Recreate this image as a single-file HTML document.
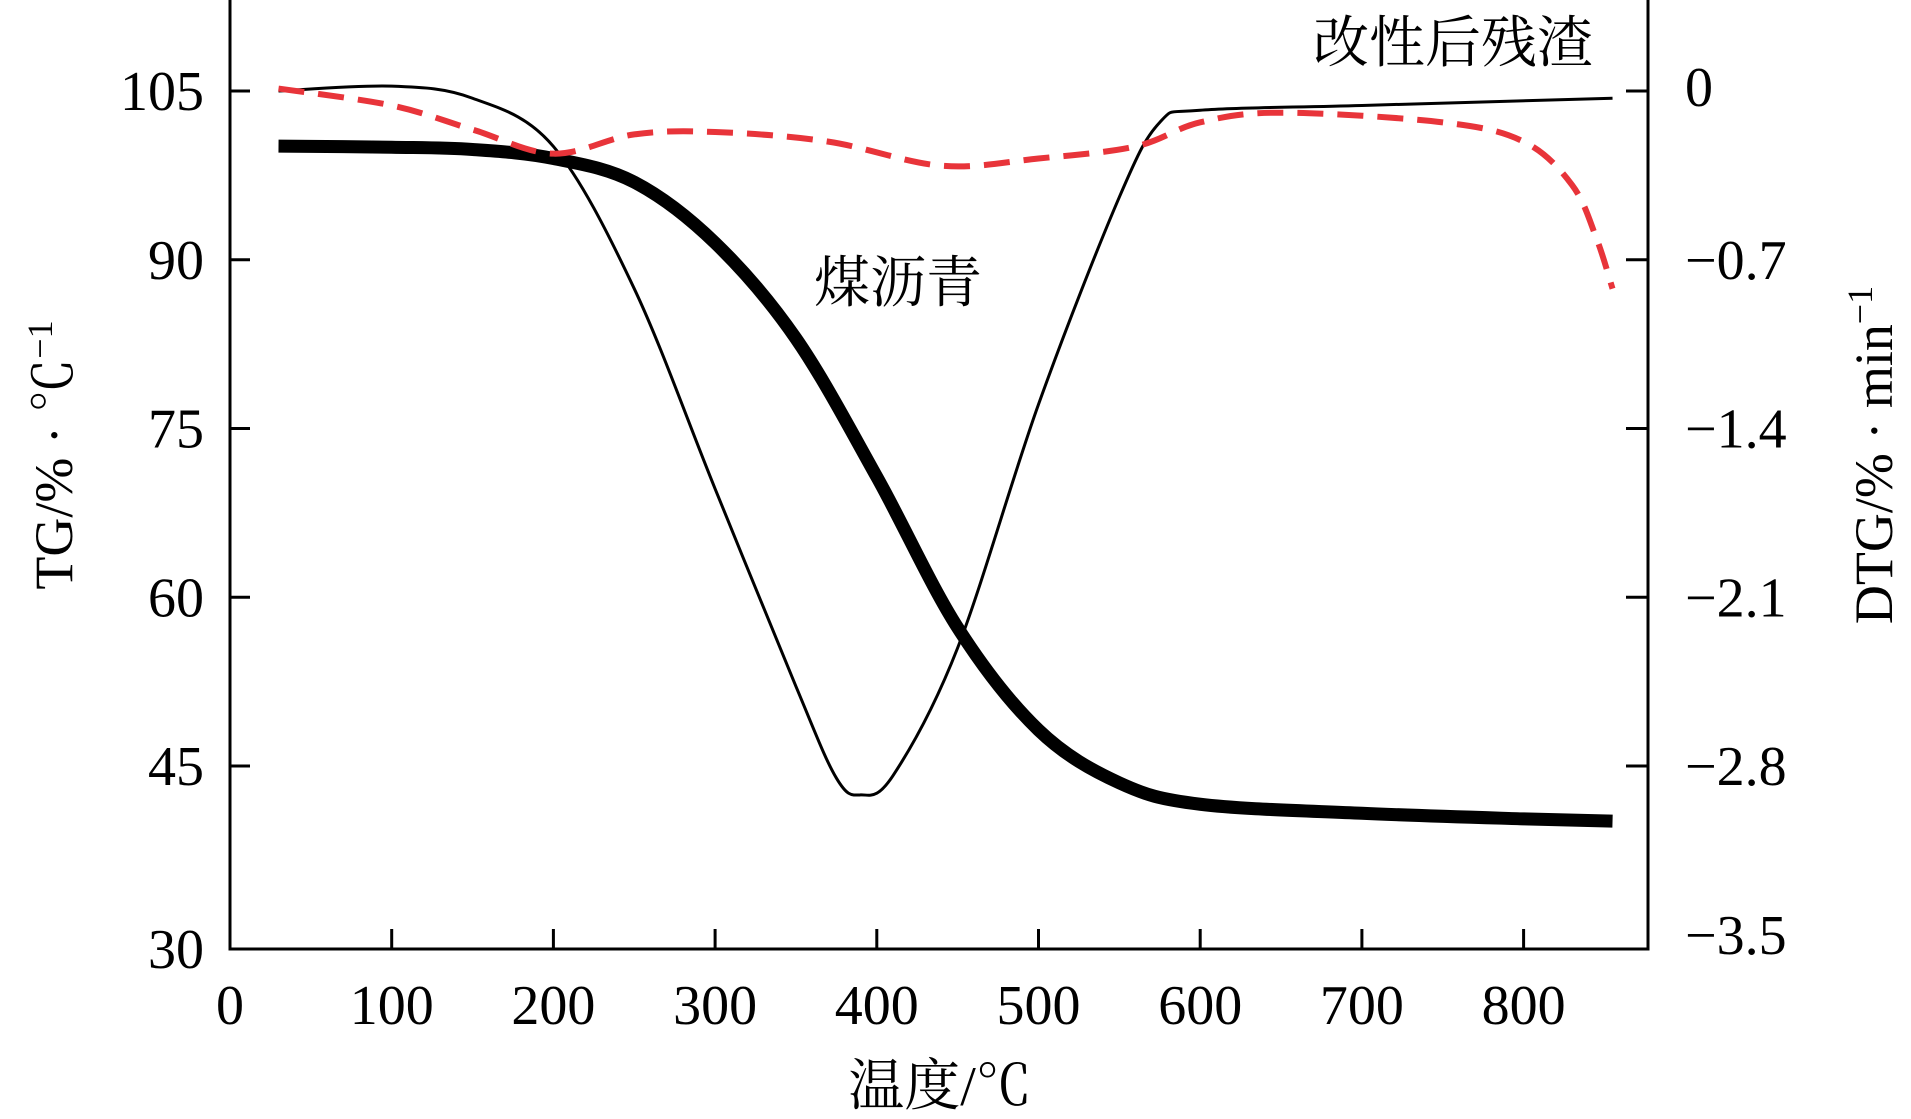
<!DOCTYPE html>
<html><head><meta charset="utf-8"><style>
html,body{margin:0;padding:0;background:#fff;}
svg{display:block;font-family:"Liberation Serif","Noto Serif CJK SC",serif;}
</style></head><body>
<svg id="chart" width="1911" height="1119" viewBox="0 0 1911 1119">
<g id="axes"></g>
<g id="series"></g>
<text x="940" y="1105" font-size="56" text-anchor="middle" font-family="Liberation Serif, Noto Serif CJK SC, serif">温度/℃</text>
<text transform="translate(72,455) rotate(-90)" font-size="54" text-anchor="middle">TG/% · ℃<tspan dy="-20" font-size="36">−1</tspan></text>
<text transform="translate(1892,455) rotate(-90)" font-size="54" text-anchor="middle">DTG/% · min<tspan dy="-20" font-size="36">−1</tspan></text>
<text x="898" y="302" font-size="56" text-anchor="middle" font-family="Liberation Serif, Noto Serif CJK SC, serif">煤沥青</text>
<text x="1453" y="62" font-size="56" text-anchor="middle" font-family="Liberation Serif, Noto Serif CJK SC, serif">改性后残渣</text>
</svg>
<script>
const xTicks=[0,100,200,300,400,500,600,700,800];
const yLeftTicks=[30,45,60,75,90,105];
const yRightTicks=["−3.5","−2.8","−2.1","−1.4","−0.7","0"];
const tgTemp=[30,100,150,200,250,300,350,400,450,500,550,600,700,800,855];
const tgValues=[100.1,100,99.8,99,96.9,91.5,83,70.7,57.3,48.2,43.5,41.6,40.8,40.3,40.1];
const dtgResidueTemp=[30,100,150,200,250,300,350,375,390,410,450,500,550,575,600,700,855];
const dtgResidueValues=[0.0,0.02,-0.03,-0.23,-0.82,-1.65,-2.47,-2.85,-2.92,-2.84,-2.31,-1.3,-0.44,-0.13,-0.08,-0.06,-0.03];
const dtgPitchTemp=[30,100,150,200,250,300,370,440,500,560,600,650,750,800,830,845,855];
const dtgPitchValues=[0.01,-0.06,-0.16,-0.26,-0.18,-0.17,-0.21,-0.31,-0.28,-0.23,-0.13,-0.09,-0.13,-0.21,-0.39,-0.61,-0.82];

const L=230,R=1648,B=949;
const xs=t=>L+1.617*t;
const yL=v=>91+(105-v)*11.25;
const yR=d=>yL(105+d*15/0.7);
const NS="http://www.w3.org/2000/svg";
function mk(tag,attrs,parent){const e=document.createElementNS(NS,tag);for(const k in attrs)e.setAttribute(k,attrs[k]);parent.appendChild(e);return e;}
const ax=document.getElementById('axes');
const frame=mk('path',{d:`M${L},0 V${B} H${R} V0`,fill:'none',stroke:'#000','stroke-width':3},ax);


xTicks.forEach(t=>{
  const tk=mk('line',{x1:xs(t),x2:xs(t),y1:B,y2:B-20,stroke:'#000','stroke-width':3},ax);
  
  
  const tx=mk('text',{x:xs(t),y:1024,'font-size':56,'text-anchor':'middle'},ax);
  tx.textContent=t;
  
  
});
yLeftTicks.forEach((v,i)=>{
  const y=yL(v);
  if(i>0){
  const tk=mk('line',{x1:L,x2:L+20,y1:y,y2:y,stroke:'#000','stroke-width':3},ax);
  
  
  const tk2=mk('line',{x1:R-22,x2:R,y1:y,y2:y,stroke:'#000','stroke-width':3},ax);
  
  
  }
  const tx=mk('text',{x:204,y:(i===0?B:y)+19,'font-size':56,'text-anchor':'end'},ax);
  tx.textContent=v;
  
  
  const tx2=mk('text',{x:1685,y:y+19+(i===5?-4:0),'font-size':56},ax);
  tx2.textContent=yRightTicks[i];
  
  
});
function smooth(pts){let d=`M${pts[0][0]},${pts[0][1]}`;for(let i=0;i<pts.length-1;i++){const p0=pts[Math.max(0,i-1)],p1=pts[i],p2=pts[i+1],p3=pts[Math.min(pts.length-1,i+2)];const c1=[p1[0]+(p2[0]-p0[0])/6,p1[1]+(p2[1]-p0[1])/6],c2=[p2[0]-(p3[0]-p1[0])/6,p2[1]-(p3[1]-p1[1])/6];d+=` C${c1[0]},${c1[1]} ${c2[0]},${c2[1]} ${p2[0]},${p2[1]}`;}return d;}
const sg=document.getElementById('series');
const p1=mk('path',{d:smooth(tgTemp.map((t,i)=>[xs(t),yL(tgValues[i])])),fill:'none',stroke:'#000','stroke-width':13},sg);


const p2=mk('path',{d:smooth(dtgResidueTemp.map((t,i)=>[xs(t),yR(dtgResidueValues[i])])),fill:'none',stroke:'#000','stroke-width':3},sg);


const p3=mk('path',{d:smooth(dtgPitchTemp.map((t,i)=>[xs(t),yR(dtgPitchValues[i])])),fill:'none',stroke:'#e8343a','stroke-width':6,'stroke-dasharray':'26 14'},sg);


</script>
</body></html>
